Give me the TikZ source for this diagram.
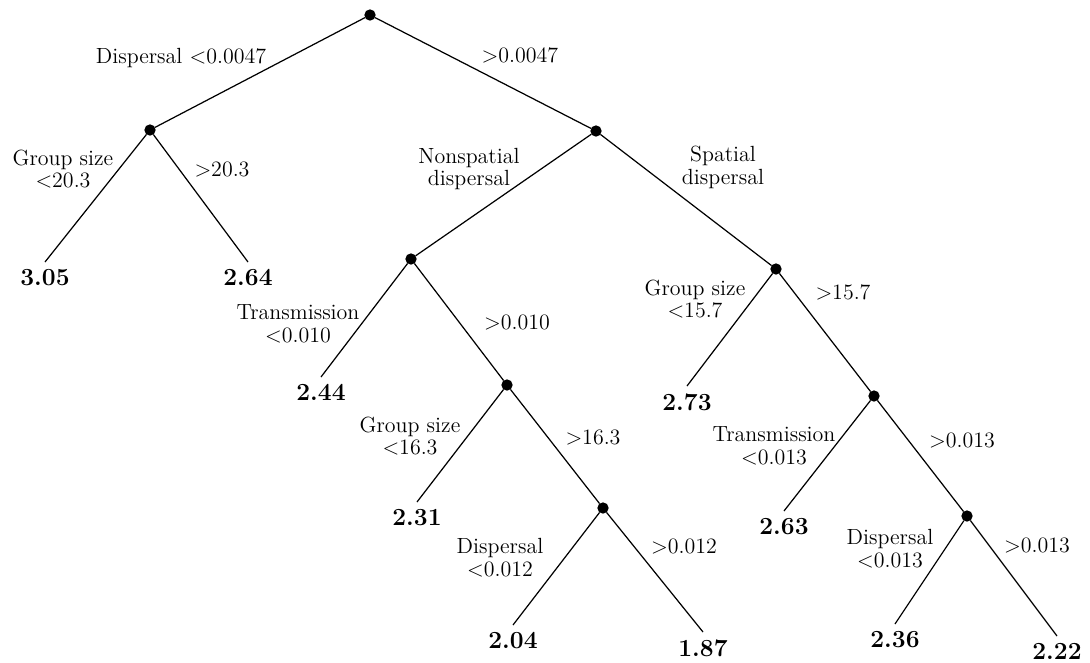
\documentclass[tikz,border=0pt]{standalone}
\usepackage{tikz}
\newcommand{\treefont}{\fontsize{12.5}{13}\selectfont}
\newcommand{\leaffont}{\fontsize{14}{15}\selectfont\bfseries}
\tikzstyle{split} = [draw, fill, shape=circle, minimum size=.2cm, inner sep=0pt]
\tikzstyle{leaf} = [anchor=north, inner sep=4pt, font=\leaffont]
\tikzstyle{rule} = [align=center, inner sep=1pt, font=\treefont]

\begin{document}
\begin{tikzpicture}[x=0.02cm, y=-0.02cm, line width=.7pt]
    \useasboundingbox (0,0) rectangle (1090,663);
    % splits
    \draw (370,15) node[split] (root) {};
    \draw (150,130) node[split] (dlow) {};
    \draw (596,131) node[split] (dhigh) {};
    \draw (411,259) node[split] (nonsp) {};
    \draw (776,269) node[split] (spat) {};
    \draw (507,385) node[split] (ntr) {};
    \draw (603,508) node[split] (ngs) {};
    \draw (874,396) node[split] (sgs) {};
    \draw (967,516) node[split] (str) {};
    % leaves
    \node[leaf] (v305) at (45,262) {3.05};
    \node[leaf] (v264) at (248,262) {2.64};
    \node[leaf] (v244) at (321,377) {2.44};
    \node[leaf] (v231) at (417,502) {2.31};
    \node[leaf] (v204) at (513,625) {2.04};
    \node[leaf] (v187) at (703,632) {1.87};
    \node[leaf] (v273) at (687,386) {2.73};
    \node[leaf] (v263) at (784,511) {2.63};
    \node[leaf] (v236) at (895,624) {2.36};
    \node[leaf] (v222) at (1057,636) {2.22};
    % branches
    \draw (root) -- (dlow);
    \draw (root) -- (dhigh);
    \draw (dlow) -- (v305.north);
    \draw (dlow) -- (v264.north);
    \draw (dhigh) -- (nonsp);
    \draw (dhigh) -- (spat);
    \draw (nonsp) -- (v244.north);
    \draw (nonsp) -- (ntr);
    \draw (ntr) -- (v231.north);
    \draw (ntr) -- (ngs);
    \draw (ngs) -- (v204.north);
    \draw (ngs) -- (v187.north);
    \draw (spat) -- (v273.north);
    \draw (spat) -- (sgs);
    \draw (sgs) -- (v263.north);
    \draw (sgs) -- (str);
    \draw (str) -- (v236.north);
    \draw (str) -- (v222.north);
    % split rules
    \node[rule] (r1) at (181,58) {Dispersal <0.0047};
    \node[rule] (r2) at (520,55) {>0.0047};
    \node[rule] (r3) at (63,169) {Group size\\<20.3};
    \node[rule] (r4) at (222,170) {>20.3};
    \node[rule] (r5) at (469,169) {Nonspatial\\dispersal};
    \node[rule] (r6) at (723,167) {Spatial\\dispersal};
    \node[rule] (r7) at (298,324) {Transmission\\<0.010};
    \node[rule] (r8) at (517,323) {>0.010};
    \node[rule] (r9) at (695,299) {Group size\\<15.7};
    \node[rule] (r10) at (843,292) {>15.7};
    \node[rule] (r11) at (410,436) {Group size\\<16.3};
    \node[rule] (r12) at (593,438) {>16.3};
    \node[rule] (r13) at (774,446) {Transmission\\<0.013};
    \node[rule] (r14) at (962,441) {>0.013};
    \node[rule] (r15) at (500,558) {Dispersal\\<0.012};
    \node[rule] (r16) at (684,547) {>0.012};
    \node[rule] (r17) at (890,549) {Dispersal\\<0.013};
    \node[rule] (r18) at (1037,546) {>0.013};
\end{tikzpicture}
\end{document}
